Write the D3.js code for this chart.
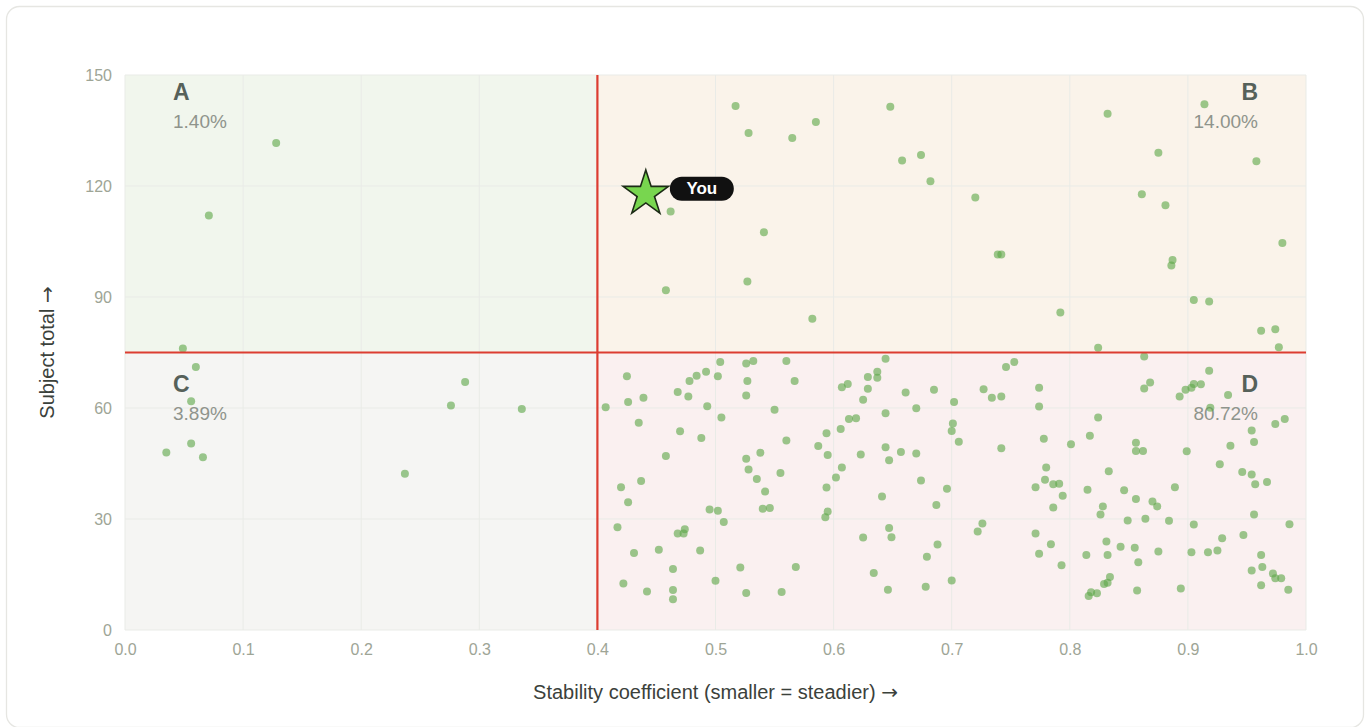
<!DOCTYPE html>
<html>
<head>
<meta charset="utf-8">
<script src="https://cdn.jsdelivr.net/npm/d3@7"></script>
<style>
  html, body { margin: 0; padding: 0; background: #ffffff; }
  svg { display: block; font-family: 'Liberation Sans', Arial, Helvetica, sans-serif; }
</style>
</head>
<body>
<svg id="chart" width="1370" height="727"></svg>
<script>
// axis ticks
const xTicks = [0, 0.1, 0.2, 0.3, 0.4, 0.5, 0.6, 0.7, 0.8, 0.9, 1.0];
const yTicks = [0, 30, 60, 90, 120, 150];

// quadrant split and shares
const xSplit = 0.4;
const ySplit = 75;
const quadrantNames = ['A', 'B', 'C', 'D'];
const quadrantShares = ['1.40%', '14.00%', '3.89%', '80.72%'];

// the highlighted respondent
const youPoint = [0.441, 117.9];
const youLabel = 'You';

// [stability coefficient, subject total]
const points = [
  // left half
  [0.128, 131.6], [0.071, 112.0], [0.049, 76.1], [0.060, 71.1], [0.056, 61.8], [0.056, 50.4],
  [0.035, 48.0], [0.066, 46.7], [0.237, 42.2], [0.276, 60.7], [0.288, 67.0], [0.336, 59.7],
  // upper right
  [0.517, 141.6], [0.528, 134.3], [0.565, 133.0], [0.585, 137.3], [0.511, 120.3], [0.462, 113.1],
  [0.541, 107.5], [0.527, 94.2], [0.458, 91.8], [0.582, 84.1], [0.648, 141.4], [0.658, 126.9],
  [0.674, 128.4], [0.682, 121.3], [0.720, 116.9], [0.739, 101.5], [0.742, 101.5], [0.792, 85.8],
  [0.832, 139.5], [0.914, 142.1], [0.875, 129.0], [0.958, 126.7], [0.861, 117.8], [0.881, 114.8],
  [0.980, 104.6], [0.887, 100.0], [0.886, 98.5], [0.905, 89.2], [0.918, 88.8], [0.962, 80.9],
  [0.974, 81.3], [0.977, 76.4], [0.824, 76.3],
  // lower right, 0.4 - 0.6
  [0.504, 72.4], [0.526, 72.0], [0.532, 72.7], [0.560, 72.7], [0.425, 68.6], [0.484, 68.7],
  [0.492, 69.8], [0.502, 68.6], [0.478, 67.3], [0.527, 67.3], [0.567, 67.3], [0.468, 64.3],
  [0.477, 63.1], [0.526, 63.4], [0.426, 61.6], [0.439, 62.8], [0.407, 60.2], [0.493, 60.5],
  [0.550, 59.5], [0.505, 57.4], [0.435, 56.0], [0.470, 53.7], [0.488, 51.9], [0.560, 51.2],
  [0.458, 47.0], [0.526, 46.3], [0.538, 47.9], [0.528, 43.4], [0.555, 42.4], [0.535, 40.8],
  [0.420, 38.6], [0.437, 40.3], [0.542, 37.4], [0.426, 34.5], [0.495, 32.6], [0.502, 32.2],
  [0.540, 32.8], [0.546, 33.0], [0.507, 29.2], [0.417, 27.8], [0.468, 26.1], [0.474, 27.2],
  [0.473, 26.1], [0.431, 20.8], [0.452, 21.7], [0.487, 21.5], [0.464, 16.5], [0.521, 16.9],
  [0.568, 17.0], [0.422, 12.6], [0.500, 13.3], [0.442, 10.4], [0.464, 10.8], [0.464, 8.3],
  [0.526, 10.0], [0.556, 10.3], [0.607, 65.6], [0.612, 66.5], [0.594, 53.2], [0.606, 54.3],
  [0.587, 49.7], [0.595, 47.3], [0.607, 43.9], [0.602, 41.2], [0.594, 38.5], [0.595, 32.0],
  [0.593, 30.5],
  // lower right, 0.6 - 0.8
  [0.644, 73.3], [0.629, 68.4], [0.637, 69.8], [0.637, 68.2], [0.629, 65.2], [0.625, 62.2],
  [0.661, 64.2], [0.685, 64.9], [0.670, 59.9], [0.644, 58.6], [0.613, 57.0], [0.619, 57.2],
  [0.702, 61.6], [0.701, 55.8], [0.700, 53.8], [0.706, 50.9], [0.644, 49.4], [0.623, 47.4],
  [0.647, 45.9], [0.657, 48.1], [0.670, 47.7], [0.674, 40.4], [0.641, 36.1], [0.696, 38.2],
  [0.687, 33.8], [0.647, 27.6], [0.625, 25.0], [0.649, 25.1], [0.688, 23.1], [0.679, 19.8],
  [0.634, 15.4], [0.646, 10.9], [0.678, 11.7], [0.700, 13.4], [0.727, 65.1], [0.734, 62.8],
  [0.742, 63.1], [0.746, 71.1], [0.753, 72.4], [0.774, 65.5], [0.774, 60.4], [0.742, 49.1],
  [0.778, 51.7], [0.801, 50.2], [0.780, 43.9], [0.779, 40.6], [0.771, 38.6], [0.786, 39.4],
  [0.791, 39.5], [0.794, 36.3], [0.786, 33.1], [0.726, 28.8], [0.722, 26.6], [0.771, 26.1],
  [0.784, 23.2], [0.774, 20.6], [0.793, 17.5],
  // lower right, 0.8 - 1.0
  [0.817, 52.5], [0.815, 37.9], [0.814, 20.3], [0.863, 73.9], [0.868, 66.9], [0.863, 65.3],
  [0.918, 70.1], [0.893, 63.1], [0.898, 64.9], [0.903, 65.5], [0.905, 66.5], [0.911, 66.4],
  [0.934, 63.5], [0.919, 60.1], [0.824, 57.4], [0.856, 50.6], [0.856, 48.4], [0.862, 48.4],
  [0.899, 48.3], [0.974, 55.7], [0.982, 57.0], [0.954, 53.9], [0.956, 50.8], [0.936, 49.8],
  [0.927, 44.8], [0.833, 42.9], [0.846, 37.8], [0.856, 35.4], [0.889, 38.6], [0.828, 33.4],
  [0.826, 31.2], [0.849, 29.6], [0.864, 30.1], [0.870, 34.7], [0.874, 33.4], [0.884, 29.5],
  [0.905, 28.5], [0.946, 42.7], [0.954, 42.0], [0.957, 39.4], [0.967, 40.0], [0.956, 31.2],
  [0.986, 28.6], [0.947, 25.7], [0.929, 24.8], [0.925, 21.5], [0.917, 21.0], [0.903, 21.0],
  [0.875, 21.2], [0.831, 23.9], [0.832, 20.3], [0.843, 22.5], [0.855, 22.2], [0.858, 18.3],
  [0.834, 14.3], [0.832, 12.8], [0.829, 12.4], [0.823, 9.9], [0.818, 10.2], [0.816, 9.2],
  [0.857, 10.7], [0.894, 11.2], [0.962, 20.3], [0.954, 16.1], [0.963, 17.0], [0.972, 15.3],
  [0.974, 14.0], [0.979, 14.0], [0.962, 12.1], [0.985, 10.9]
];

const width = 1370;
const height = 727;
const margin = { top: 75, right: 64, bottom: 97, left: 125 };

const svg = d3.select('#chart');

// card behind everything
svg.append('rect')
  .attr('x', 6.5).attr('y', 6.5)
  .attr('width', width - 13).attr('height', height - 6)
  .attr('rx', 13)
  .attr('fill', '#ffffff')
  .attr('stroke', '#e6e6e2')
  .attr('stroke-width', 1.3);

const x = d3.scaleLinear().domain([0, 1]).range([margin.left, width - margin.right]);
const y = d3.scaleLinear().domain([0, 150]).range([height - margin.bottom, margin.top]);

// quadrant backgrounds
const quadrants = [
  { name: quadrantNames[0], share: quadrantShares[0], x0: 0, x1: xSplit, y0: ySplit, y1: 150, fill: '#f1f6ed', align: 'start' },
  { name: quadrantNames[1], share: quadrantShares[1], x0: xSplit, x1: 1, y0: ySplit, y1: 150, fill: '#faf3ea', align: 'end' },
  { name: quadrantNames[2], share: quadrantShares[2], x0: 0, x1: xSplit, y0: 0, y1: ySplit, fill: '#f5f5f3', align: 'start' },
  { name: quadrantNames[3], share: quadrantShares[3], x0: xSplit, x1: 1, y0: 0, y1: ySplit, fill: '#faf0f0', align: 'end' }
];

svg.append('g')
  .selectAll('rect')
  .data(quadrants)
  .join('rect')
  .attr('x', (d) => x(d.x0))
  .attr('y', (d) => y(d.y1))
  .attr('width', (d) => x(d.x1) - x(d.x0))
  .attr('height', (d) => y(d.y0) - y(d.y1))
  .attr('fill', (d) => d.fill);

// grid
const grid = svg.append('g').attr('class', 'grid');
grid.selectAll('.vgrid')
  .data(xTicks)
  .join('line')
  .attr('class', 'vgrid')
  .attr('x1', (d) => x(d)).attr('x2', (d) => x(d))
  .attr('y1', y(0)).attr('y2', y(150))
  .attr('stroke', '#e9ebe7')
  .attr('stroke-width', 1);
grid.selectAll('.hgrid')
  .data(yTicks)
  .join('line')
  .attr('class', 'hgrid')
  .attr('x1', x(0)).attr('x2', x(1))
  .attr('y1', (d) => y(d)).attr('y2', (d) => y(d))
  .attr('stroke', '#e9ebe7')
  .attr('stroke-width', 1);

// axes, text only
const xAxis = d3.axisBottom(x).tickValues(xTicks).tickFormat(d3.format('.1f')).tickSize(0).tickPadding(14);
svg.append('g')
  .attr('transform', `translate(0, ${y(0)})`)
  .call(xAxis)
  .call((g) => g.select('.domain').remove())
  .selectAll('text')
  .attr('font-size', 16)
  .attr('font-family', null)
  .attr('fill', '#9ea596');

const yAxis = d3.axisLeft(y).tickValues(yTicks).tickSize(0).tickPadding(13);
svg.append('g')
  .attr('transform', `translate(${x(0)}, 0)`)
  .call(yAxis)
  .call((g) => g.select('.domain').remove())
  .selectAll('text')
  .attr('font-size', 16)
  .attr('font-family', null)
  .attr('fill', '#9ea596');

// axis titles, the arrow glyph comes from DejaVu so it keeps its full width
const xTitle = svg.append('text')
  .attr('x', (x(0) + x(1)) / 2)
  .attr('y', 699)
  .attr('text-anchor', 'middle')
  .attr('font-size', 20)
  .attr('fill', '#3b413b');
xTitle.append('tspan').text('Stability coefficient (smaller = steadier) ');
xTitle.append('tspan').attr('font-family', 'DejaVu Sans').text('→');

const yTitle = svg.append('text')
  .attr('transform', `translate(54, ${(y(0) + y(150)) / 2}) rotate(-90)`)
  .attr('text-anchor', 'middle')
  .attr('font-size', 20)
  .attr('fill', '#3b413b');
yTitle.append('tspan').text('Subject total ');
yTitle.append('tspan').attr('font-family', 'DejaVu Sans').text('→');

// quadrant letters and shares
const labels = svg.append('g').attr('class', 'quadrant-labels');
quadrants.forEach((q) => {
  const lx = q.align === 'start' ? x(q.x0) + 48 : x(q.x1) - 48;
  const top = y(q.y1);
  const off = q.y1 === 150 ? 25 : 39;
  labels.append('text')
    .attr('x', lx)
    .attr('y', top + off)
    .attr('text-anchor', q.align)
    .attr('font-size', 23)
    .attr('font-weight', 'bold')
    .attr('fill', '#56615a')
    .text(q.name);
  labels.append('text')
    .attr('x', lx)
    .attr('y', top + off + 28)
    .attr('text-anchor', q.align)
    .attr('font-size', 19)
    .attr('fill', '#8f948c')
    .text(q.share);
});

// scatter points
svg.append('g')
  .attr('class', 'points')
  .selectAll('circle')
  .data(points)
  .join('circle')
  .attr('cx', (d) => x(d[0]))
  .attr('cy', (d) => y(d[1]))
  .attr('r', 4)
  .attr('fill', '#5fa84a')
  .attr('fill-opacity', 0.62);

// threshold lines
svg.append('line')
  .attr('x1', x(xSplit)).attr('x2', x(xSplit))
  .attr('y1', y(0)).attr('y2', y(150))
  .attr('stroke', '#dc3d31')
  .attr('stroke-width', 2.2);
svg.append('line')
  .attr('x1', x(0)).attr('x2', x(1))
  .attr('y1', y(ySplit)).attr('y2', y(ySplit))
  .attr('stroke', '#dc3d31')
  .attr('stroke-width', 2.2);

// the "You" marker
const you = svg.append('g')
  .attr('transform', `translate(${x(youPoint[0])}, ${y(youPoint[1])})`);
you.append('path')
  .attr('d', d3.symbol(d3.symbolStar, 640)())
  .attr('fill', '#78d64f')
  .attr('stroke', '#1c2b16')
  .attr('stroke-width', 1.6)
  .attr('stroke-linejoin', 'miter');
you.append('rect')
  .attr('x', 24).attr('y', -17)
  .attr('width', 64).attr('height', 24)
  .attr('rx', 12)
  .attr('fill', '#111111');
you.append('text')
  .attr('x', 56).attr('y', 0.5)
  .attr('text-anchor', 'middle')
  .attr('font-size', 17)
  .attr('font-weight', 'bold')
  .attr('fill', '#ffffff')
  .text(youLabel);
</script>
</body>
</html>
